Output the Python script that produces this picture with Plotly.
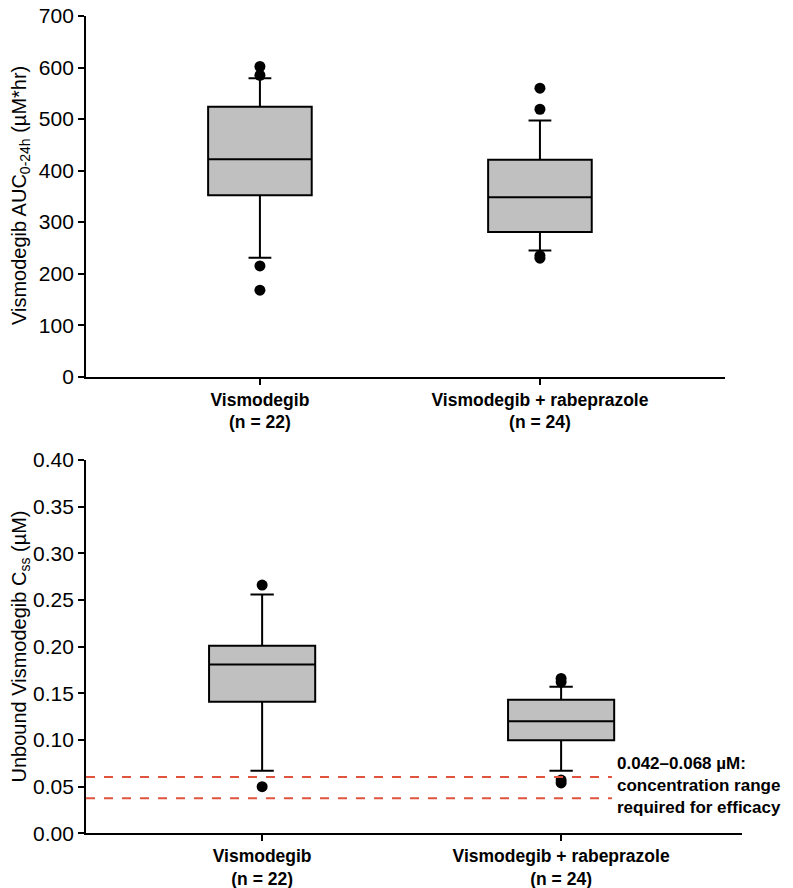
import plotly.graph_objects as go
from plotly.subplots import make_subplots

# Groups and sample sizes
groups = ["Vismodegib", "Vismodegib + rabeprazole"]
n_sizes = [22, 24]

# Top panel: AUC 0-24h (uM*hr) box statistics
auc_q1 = [352, 281]
auc_median = [422, 348]
auc_q3 = [524, 421]
auc_lower = [231, 245]
auc_upper = [579, 497]
auc_outliers = [[602, 585, 215, 168], [560, 519, 235, 230]]

# Bottom panel: unbound Css (uM) box statistics
css_q1 = [0.141, 0.0996]
css_median = [0.181, 0.120]
css_q3 = [0.201, 0.143]
css_lower = [0.067, 0.067]
css_upper = [0.256, 0.157]
css_outliers = [[0.266, 0.050], [0.166, 0.162, 0.057, 0.054]]

# Efficacy range reference lines (as drawn)
efficacy_lines = [0.0375, 0.0604]

FONT = "Arial, Liberation Sans, sans-serif"
BOX_FILL = "#c0c0c0"
RED = "#e0533d"

tick_text = [f"<b>{g}</b><br><b>(n = {n})</b>" for g, n in zip(groups, n_sizes)]
positions = list(range(len(groups)))

fig = make_subplots(rows=2, cols=1)


def add_panel(fig, row, q1, med, q3, lo, hi, outliers, width):
    fig.add_trace(
        go.Box(
            x=positions, q1=q1, median=med, q3=q3,
            lowerfence=lo, upperfence=hi,
            width=width, whiskerwidth=0.22,
            fillcolor=BOX_FILL,
            line=dict(color="black", width=2),
            boxpoints=False, hoverinfo="skip",
        ),
        row=row, col=1
    )
    xs, ys = [], []
    for pos, vals in zip(positions, outliers):
        xs += [pos] * len(vals)
        ys += vals
    fig.add_trace(
        go.Scatter(
            x=xs, y=ys, mode="markers",
            marker=dict(color="black", size=11),
            cliponaxis=False,
        ),
        row=row, col=1
    )


add_panel(fig, 1, auc_q1, auc_median, auc_q3, auc_lower, auc_upper,
          auc_outliers, 0.37)
add_panel(fig, 2, css_q1, css_median, css_q3, css_lower, css_upper,
          css_outliers, 0.355)

# Dashed efficacy lines in bottom panel
bottom_xrange = [-0.589, 1.605]
line_end = 1.17
for yv in efficacy_lines:
    fig.add_trace(
        go.Scatter(
            x=[bottom_xrange[0], line_end], y=[yv, yv], mode="lines",
            line=dict(color=RED, width=2, dash="dash"),
        ),
        row=2, col=1
    )

axis_common = dict(
    showline=True, linecolor="black", linewidth=2,
    ticks="outside", ticklen=6, tickwidth=2, tickcolor="black",
    showgrid=False, zeroline=False, automargin=False,
)

fig.update_xaxes(
    **axis_common, tickvals=positions, ticktext=tick_text,
    tickfont=dict(family=FONT, size=17.5, color="black"),
)
fig.update_yaxes(**axis_common, ticklabeloverflow="allow",
                 tickfont=dict(family=FONT, size=21, color="black"))

# page body adds an 8px offset, so domains are shifted up/left by 8px
fig.update_layout(
    width=793, height=888,
    margin=dict(l=0, r=0, t=0, b=0),
    paper_bgcolor="white", plot_bgcolor="white",
    showlegend=False,
    font=dict(family=FONT, color="black"),
    xaxis=dict(domain=[0.0984, 0.9042], range=[-0.621, 1.661]),
    yaxis=dict(domain=[0.5848, 0.991], range=[0, 700], dtick=100),
    xaxis2=dict(domain=[0.0984, 0.9256], range=bottom_xrange),
    yaxis2=dict(domain=[0.0706, 0.491], range=[0, 0.40], dtick=0.05,
                tickformat=".2f"),
    annotations=[
        dict(
            text="Vismodegib AUC<sub>0-24h</sub> (µM*hr)",
            xref="paper", yref="paper", x=0.0151, y=0.7894,
            textangle=-90, showarrow=False,
            font=dict(family=FONT, size=20, color="black"),
            xanchor="center", yanchor="middle",
        ),
        dict(
            text="Unbound Vismodegib C<sub>ss</sub> (µM)",
            xref="paper", yref="paper", x=0.0151, y=0.281,
            textangle=-90, showarrow=False,
            font=dict(family=FONT, size=20, color="black"),
            xanchor="center", yanchor="middle",
        ),
        dict(
            text="<b>0.042–0.068 µM:</b><br><b>concentration range</b><br>"
                 "<b>required for efficacy</b>",
            xref="paper", yref="paper", x=0.766, y=0.1239,
            showarrow=False, align="left",
            font=dict(family=FONT, size=17, color="black"),
            xanchor="left", yanchor="middle",
        ),
    ],
)

fig.write_html("out.html")
